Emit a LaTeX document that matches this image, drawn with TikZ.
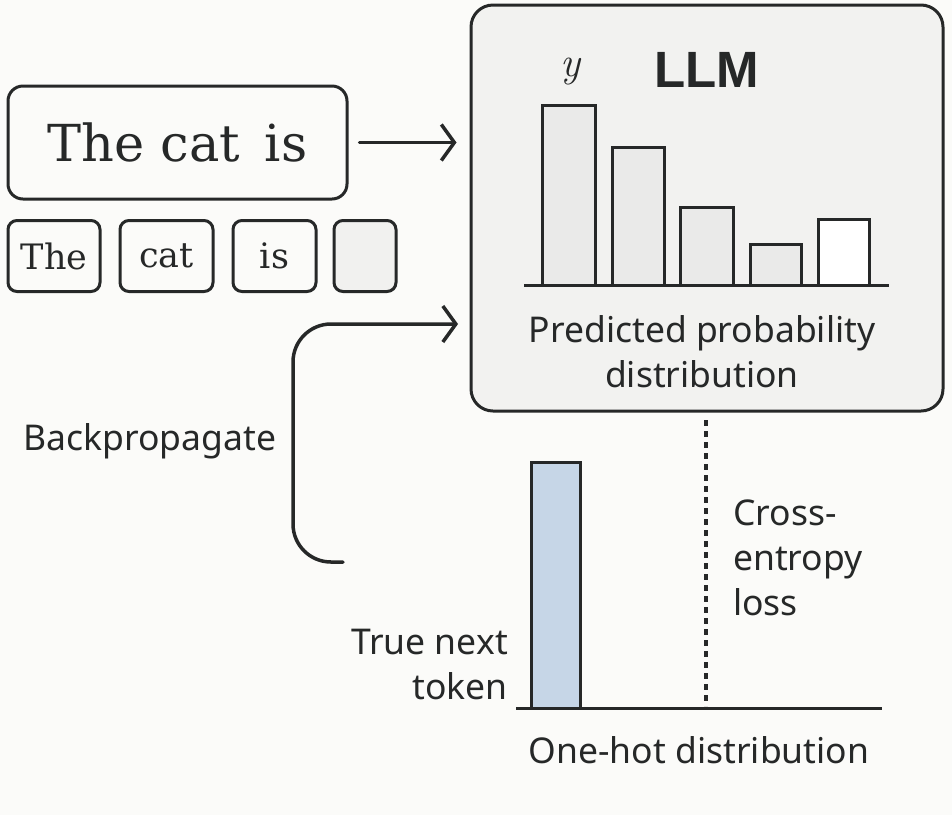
\documentclass[tikz,border=0pt]{standalone}
\usepackage{fontspec}
\usetikzlibrary{arrows.meta}
\newfontfamily\serifA{DejaVu Serif}
\newfontfamily\sansA{Noto Sans}
\newfontfamily\sansB{Liberation Sans}
\definecolor{ink}{HTML}{262828}
\definecolor{bgc}{HTML}{FBFBF9}
\definecolor{llmfill}{HTML}{F2F2F0}
\definecolor{barfill}{HTML}{EAEAE9}
\definecolor{emptyfill}{HTML}{F1F1EF}
\definecolor{bluefill}{HTML}{C6D6E7}
\begin{document}
\begin{tikzpicture}[x=1pt,y=-1pt,
  rbox/.style={draw=ink, line width=3pt, rounded corners=15pt, inner sep=0pt},
  tok/.style={draw=ink, line width=3pt, rounded corners=9pt, inner sep=0pt, minimum height=71pt,
    font=\serifA\fontsize{35}{38}\selectfont, text=ink},
  arr/.style={draw=ink, line width=3.5pt, line cap=round, line join=round,
    -{Straight Barb[length=13pt,width=36pt]}},
  lbl/.style={font=\sansA\fontsize{35.5}{45}\selectfont, text=ink, inner sep=0pt},
  bar/.style={draw=ink, line width=3pt, fill=barfill},
  axis/.style={draw=ink, line width=3pt}]
\fill[bgc] (0,0) rectangle (952,815);
\useasboundingbox (0,0) rectangle (952,815);

% input sentence
\node[rbox, minimum width=339pt, minimum height=113pt, font=\serifA\fontsize{51}{54}\selectfont, text=ink]
  (inbox) at (177.5,142.5) {The cat\, is};
% tokens
\node[tok, minimum width=92pt] (t1) at (54,256) {The};
\node[tok, minimum width=93pt] (t2) at (166.5,256) {cat};
\node[tok, minimum width=83pt] (t3) at (274.5,256) {is};
\node[tok, minimum width=62pt, fill=emptyfill] (t4) at (365,256) {};

% LLM box
\node[draw=ink, line width=3pt, rounded corners=22pt, fill=llmfill, minimum width=472pt, minimum height=406pt]
  (llm) at (707,208) {};
\node[font=\sansB\bfseries\fontsize{51}{55}\selectfont, text=ink] (llmt) at (707,70) {LLM};
\node[font=\rmfamily\itshape\fontsize{42}{46}\selectfont, text=ink] (yv) at (570,72) {y};

% predicted bars
\draw[bar] (542,285) rectangle (595,105);
\draw[bar] (612,285) rectangle (664,147);
\draw[bar] (680,285) rectangle (733,207);
\draw[bar] (750,285) rectangle (801,244);
\draw[bar, fill=white] (818,285) rectangle (869,219);
\draw[axis] (524,285) -- (889,285);
\node[lbl, align=center] (pred) at (702,352) {Predicted probability\\distribution};

% forward arrow
\draw[arr] ([xshift=11pt]inbox.east) -- ([xshift=-13pt]llm.west |- inbox.east);

% backprop
\coordinate (bpstart) at (343,562);
\coordinate (bpend) at (458,324);
\draw[arr, rounded corners=38pt] (bpstart) -- (293,562) -- (293,324) -- (bpend);
\node[lbl] (bp) at (150,441) {Backpropagate};

% one-hot
\draw[draw=ink, line width=3pt, fill=bluefill] (531,708) rectangle (580,462);
\draw[axis] (516,708) -- (882,708);
\node[lbl, align=right, anchor=east] (tnt) at (508,664) {True next\\token};
\node[lbl] (oh) at (699,750) {One-hot distribution};

% cross entropy
\coordinate (ceTop) at (706,420);
\draw[draw=ink, line width=3.5pt, dash pattern=on 6pt off 5pt] (ceTop) -- (706,706);
\node[lbl, align=left, anchor=west] (ce) at (733,558) {Cross-\\entropy\\loss};
\end{tikzpicture}
\end{document}
